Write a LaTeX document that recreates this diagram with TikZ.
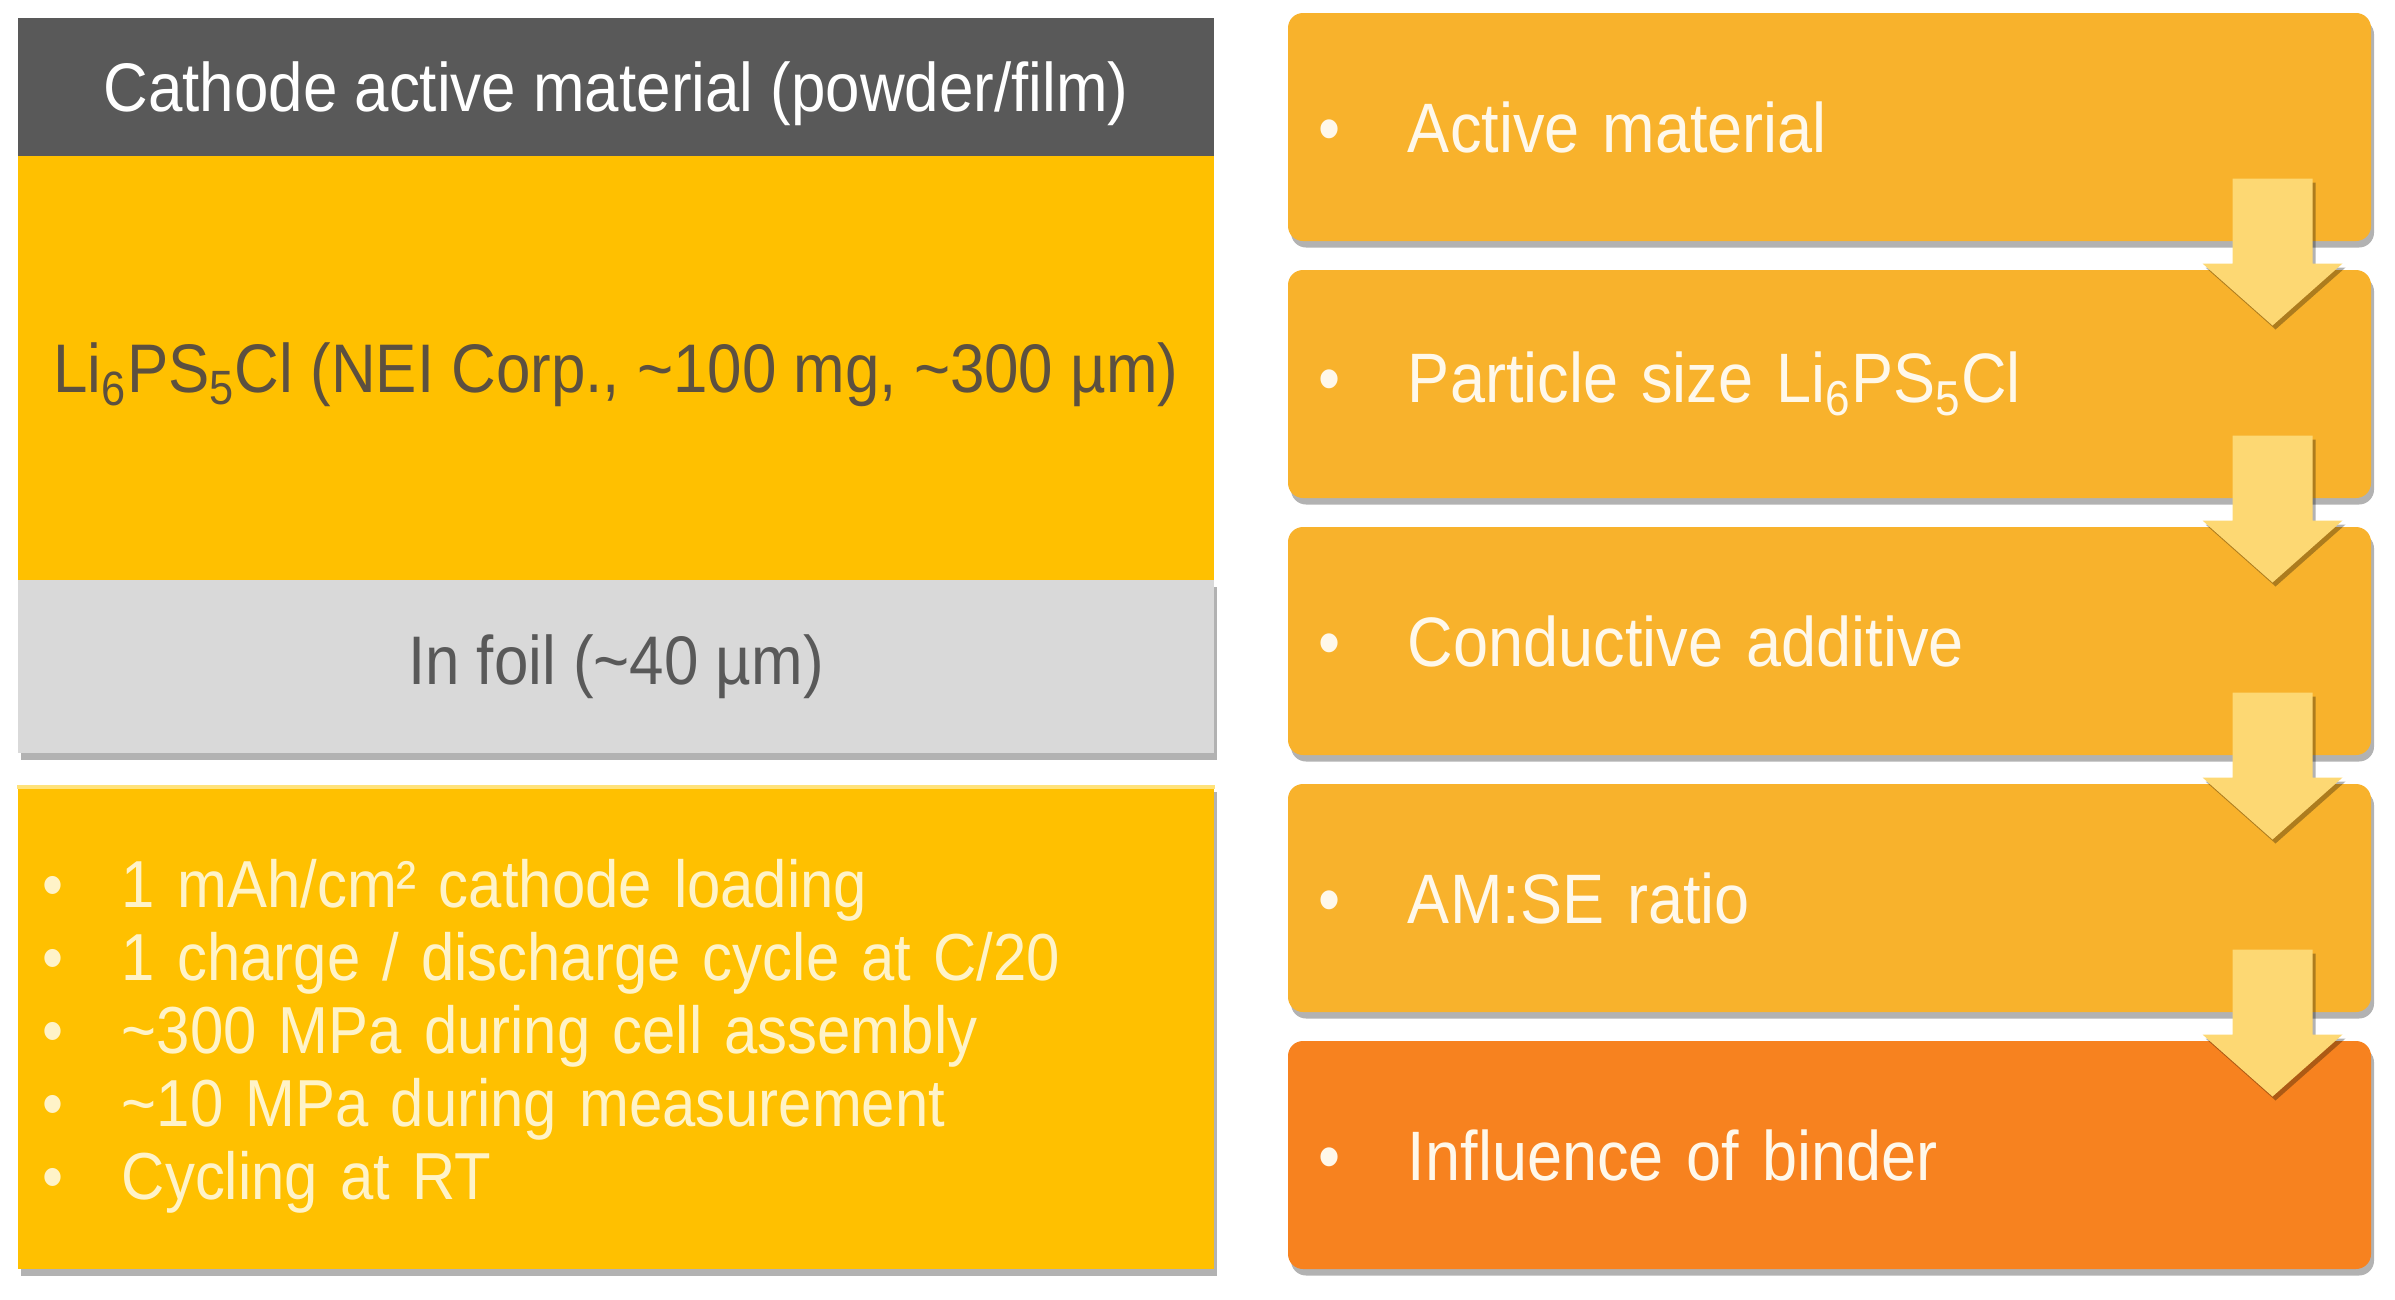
\documentclass[tikz,border=0pt]{standalone}
\usepackage{fontspec}
\setmainfont{Liberation Sans}[FakeStretch=0.9]
\usetikzlibrary{shadows,calc}
\definecolor{hdrcol}{HTML}{595959}
\definecolor{ylwcol}{HTML}{FFC000}
\definecolor{foilcol}{HTML}{D9D9D9}
\definecolor{darktext}{HTML}{595959}
\definecolor{lpstext}{HTML}{5C5040}
\definecolor{listtext}{HTML}{FFF3C8}
\definecolor{rcol}{HTML}{F8B22C}
\definecolor{rlast}{HTML}{F7821F}
\definecolor{rtext}{HTML}{FFF8EA}
\definecolor{arrcol}{HTML}{FDD873}
\definecolor{edgecol}{HTML}{FFE27A}
\newcommand{\lbul}{\makebox[20pt]{\textbullet}\hspace{17.6pt}}
\newcommand{\rbul}{\makebox[17.6pt]{\textbullet}\hspace{22.4pt}}
\begin{document}
\begin{tikzpicture}[x=0.4pt,y=-0.4pt,
  shade box/.style={drop shadow={shadow xshift=1.2pt,shadow yshift=-2.6pt,opacity=0.3,fill=black}},
  lpart/.style={rectangle,inner sep=0pt,minimum width=478.4pt,
    font=\fontsize{27.5}{31}\selectfont},
  hdrbox/.style={lpart,fill=hdrcol,text=white,minimum height=55.2pt,text depth=0pt},
  lpsbox/.style={lpart,fill=ylwcol,text=lpstext,minimum height=169.6pt,text depth=0pt},
  foilbox/.style={lpart,fill=foilcol,text=darktext,minimum height=69.2pt,shade box},
  listbox/.style={lpart,fill=ylwcol,text=listtext,minimum height=193.6pt,
    inner xsep=4pt,text width=470.4pt,align=left,shade box,
    font=\fontsize{26.6}{29.2}\selectfont},
  rbox/.style={rectangle,rounded corners=6pt,fill=rcol,text=rtext,
    minimum width=433.2pt,minimum height=91.2pt,inner xsep=8pt,inner ysep=0pt,
    text width=417.2pt,align=left,shade box,
    font=\fontsize{28}{32}\selectfont},
  blockarrow/.style={fill=arrcol,drop shadow={shadow xshift=1.2pt,shadow yshift=-1.6pt,opacity=0.3,fill=black}}
]
\fill[white] (0,0) rectangle (2395,1300);
\useasboundingbox (0,0) rectangle (2395,1300);

% left column
\node[foilbox] (foil) at (616,666.5) {In foil (\textasciitilde40 µm)};
\node[lpsbox] (lps) at (616,368) {Li\textsubscript{6}PS\textsubscript{5}Cl (NEI Corp., \textasciitilde100 mg, \textasciitilde300 µm)};
\node[hdrbox] (hdr) at (616,87) {Cathode active material (powder/film)};

\node[listbox] (cond) at (616,1027) {%
\lbul\rule{0pt}{27pt}1 mAh/cm² cathode loading\\
\lbul 1 charge / discharge cycle at C/20\\
\lbul \textasciitilde300 MPa during cell assembly\\
\lbul \textasciitilde10 MPa during measurement\\
\lbul Cycling at RT};
\draw[edgecol,line width=1.6pt] ($(cond.north west)+(0,2)$) -- ($(cond.north east)+(0,2)$);

% right column
\node[rbox] (r1) at (1829.5,127) {\rbul Active material};
\node[rbox] (r2) at (1829.5,384) {\rbul Particle size Li\textsubscript{6}PS\textsubscript{5}Cl};
\node[rbox] (r3) at (1829.5,641) {\rbul Conductive additive};
\node[rbox] (r4) at (1829.5,898) {\rbul AM:SE ratio};
\node[rbox,fill=rlast] (r5) at (1829.5,1155) {\rbul Influence of binder};

% block arrows between the boxes
\foreach \a/\b in {r1/r2,r2/r3,r3/r4,r4/r5}{
  \coordinate (base-\a) at ($(\a.south east)+(-99,0)$);
  \coordinate (tip-\a) at ($(\b.north east)+(-99,56)$);
  \fill[blockarrow] ($(base-\a)+(-40,-63)$) -- ($(base-\a)+(40,-63)$) -- ($(base-\a)+(40,22)$)
     -- ($(base-\a)+(70,22)$) -- (tip-\a) -- ($(base-\a)+(-70,22)$) -- ($(base-\a)+(-40,22)$) -- cycle;
}
\end{tikzpicture}
\end{document}
